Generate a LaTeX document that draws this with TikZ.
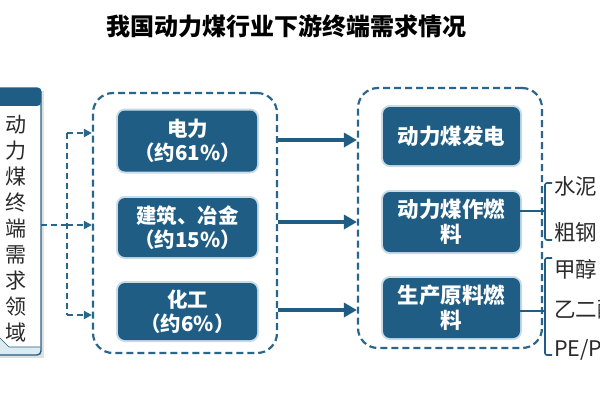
\documentclass[tikz,border=0pt]{standalone}
\usepackage{fontspec}
\setmainfont{Noto Sans CJK SC}
\usetikzlibrary{arrows.meta}
\definecolor{mainblue}{HTML}{1F5D84}
\definecolor{dashblue}{HTML}{2A6689}
\definecolor{glowblue}{HTML}{C8DCE8}
\definecolor{paleblue}{HTML}{DCEAF2}
\definecolor{txtgray}{HTML}{2A2A2A}
\tikzset{
  bluebox/.style={fill=mainblue, rounded corners=7pt, text=white, align=center,
    preaction={draw=glowblue, line width=4pt, rounded corners=7pt},
    font=\fontsize{20.5pt}{24pt}\selectfont\bfseries, inner sep=0pt},
  rightbox/.style={bluebox, font=\fontsize{21.5pt}{25pt}\selectfont\bfseries},
  groupbox/.style={draw=dashblue, line width=2.2pt, dash pattern=on 7pt off 4pt, rounded corners=20pt, inner sep=0pt},
  dasharrow/.style={draw=dashblue, line width=2.4pt, dash pattern=on 6pt off 4pt, -{Triangle[length=8pt,width=8pt]}},
  dashline/.style={draw=dashblue, line width=2.4pt, dash pattern=on 6pt off 4pt},
  thickarrow/.style={draw=mainblue, line width=4.5pt, -{Triangle[length=13pt,width=14pt]}},
  bracketline/.style={draw=mainblue, line width=1.6pt, rounded corners=2pt},
  sidetext/.style={text=txtgray, anchor=west, inner sep=0pt, font=\fontsize{21.5pt}{24pt}\selectfont},
}
\begin{document}
\begin{tikzpicture}[x=1pt,y=-1pt]
\useasboundingbox (0,0) rectangle (600,400);
\fill[white] (0,0) rectangle (600,400);
\clip (0,0) rectangle (600,400);

% title
\node[font=\fontsize{24pt}{28pt}\selectfont\bfseries, text=black, inner sep=0pt] (title) at (286.5,26) {我国动力煤行业下游终端需求情况};

% left box
\fill[black!12] (-5,91) rectangle (44,358);
\draw[draw=mainblue, line width=1.4pt, fill=paleblue, rounded corners=4pt] (-5,88) rectangle (41,355);
\fill[mainblue, rounded corners=4pt] (-5,88) -- (41,88) -- (41,106) -- (-5,106) -- cycle;
\fill[white] (-5,106) -- (40,106) -- (40,347) -- (9,347) -- (-1,337) -- (-5,337) -- cycle;
\draw[mainblue, line width=0.6pt] (-1,337) -- (9,347) -- (40,347);
\node[text=txtgray, align=center, inner sep=0pt, font=\fontsize{21pt}{26pt}\selectfont] (left) at (16,229) {动\\力\\煤\\终\\端\\需\\求\\领\\域};
\coordinate (lout) at (41,225);

% groups
\node[groupbox, minimum width=184pt, minimum height=260pt] (g1) at (185,223) {};
\node[groupbox, minimum width=184pt, minimum height=260pt] (g2) at (450,218) {};

% middle boxes
\node[bluebox, minimum width=139pt, minimum height=61pt] (m1) at (187.5,141) {电力\\（约61\%）};
\node[bluebox, minimum width=139pt, minimum height=59pt] (m2) at (187.5,227.5) {建筑、冶金\\（约15\%）};
\node[bluebox, minimum width=139pt, minimum height=57pt] (m3) at (187.5,311.5) {化工\\（约6\%）};

% right boxes
\node[rightbox, minimum width=137pt, minimum height=58pt] (r1) at (451.5,136) {动力煤发电};
\node[rightbox, minimum width=137pt, minimum height=60pt] (r2) at (451.5,222) {动力煤作燃\\料};
\node[rightbox, minimum width=137pt, minimum height=60pt] (r3) at (451.5,308) {生产原料燃\\料};

% dashed connectors from left box
\coordinate (bus) at (67,225);
\coordinate (bustop) at (67,133);
\coordinate (busbot) at (67,315);
\draw[dashline] (lout) -- (bus);
\draw[dashline] (bustop) -- (busbot);
\draw[dasharrow] (bustop) -- (g1.west |- bustop);
\draw[dasharrow] (bus) -- (g1.west |- bus);
\draw[dasharrow] (busbot) -- (g1.west |- busbot);

% solid arrows between groups
\draw[thickarrow] (g1.east |- 0,140) -- (g2.west |- 0,140);
\draw[thickarrow] (g1.east |- 0,222) -- (g2.west |- 0,222);
\draw[thickarrow] (g1.east |- 0,310) -- (g2.west |- 0,310);

% brackets
\coordinate (b1) at (545,211);
\draw[bracketline] (r2.east |- b1) -- (b1);
\draw[bracketline] (552,183) -- (545,183) -- (545,240) -- (552,240);
\coordinate (b2) at (545,311);
\draw[bracketline] (r3.east |- b2) -- (b2);
\draw[bracketline] (552,258) -- (545,258) -- (545,355) -- (552,355);

% side texts
\node[sidetext] (s1) at (554,186) {水泥};
\node[sidetext] (s2) at (554,232) {粗钢};
\node[sidetext] (s3) at (554,269) {甲醇};
\node[sidetext] (s4) at (554,309) {乙二醇};
\node[sidetext] (s5) at (554,350) {PE/PP};
\end{tikzpicture}
\end{document}
